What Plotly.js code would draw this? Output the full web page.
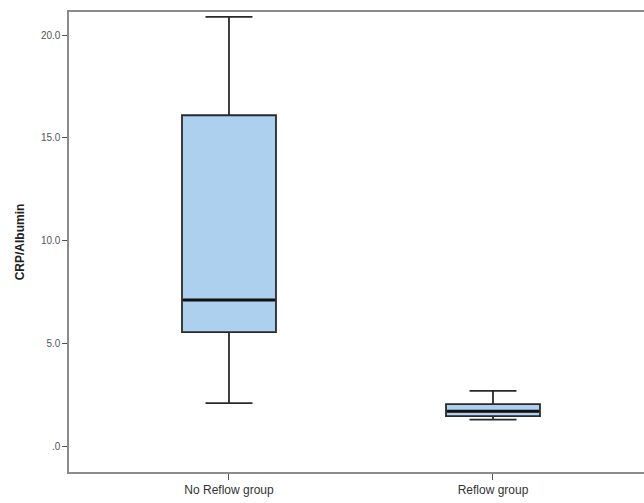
<!DOCTYPE html>
<html>
<head>
<meta charset="utf-8">
<script src="https://cdn.plot.ly/plotly-3.0.1.min.js"></script>
<style>html,body{margin:0;padding:0;background:#fff;}#chart{width:644px;height:503px;}</style>
</head>
<body>
<div id="chart"></div>
<script>
var categories = ["No Reflow group", "Reflow group"];
var lowerWhisker = [2.10, 1.30];
var q1 = [5.55, 1.47];
var median = [7.12, 1.70];
var q3 = [16.10, 2.05];
var upperWhisker = [20.88, 2.70];
var yTickVals = [0, 5, 10, 15, 20];
var yTickText = [".0", "5.0", "10.0", "15.0", "20.0"];

var boxWidth = 0.356;
var positions = categories.map(function (c, i) { return i; });

var boxTrace = {
  type: "box",
  x: positions,
  q1: q1,
  median: median,
  q3: q3,
  lowerfence: lowerWhisker,
  upperfence: upperWhisker,
  width: boxWidth,
  whiskerwidth: 0.5,
  fillcolor: "rgb(172,208,238)",
  line: {color: "#2a2a2a", width: 1.8},
  boxpoints: false,
  hoverinfo: "none",
  showlegend: false
};

// thicker median line, as in the SPSS original
var mx = [], my = [];
positions.forEach(function (p, i) {
  mx.push(p - boxWidth / 2 + 0.004, p + boxWidth / 2 - 0.004, null);
  my.push(median[i], median[i], null);
});
var medianTrace = {
  type: "scatter",
  mode: "lines",
  x: mx,
  y: my,
  line: {color: "#111", width: 3},
  hoverinfo: "none",
  showlegend: false
};

var layout = {
  width: 644,
  height: 503,
  margin: {l: 69, r: 0, t: 12, b: 31},
  paper_bgcolor: "#ffffff",
  plot_bgcolor: "#ffffff",
  font: {family: "Liberation Sans, Arial, sans-serif", color: "#333"},
  showlegend: false,
  xaxis: {
    range: [-0.606, 1.572],
    tickvals: positions,
    ticktext: categories,
    showline: true,
    linecolor: "#8c8c8c",
    linewidth: 1.6,
    mirror: true,
    ticks: "outside",
    ticklen: 6,
    tickcolor: "#555",
    tickwidth: 1,
    showgrid: false,
    zeroline: false,
    tickfont: {size: 12, color: "#333"}
  },
  yaxis: {
    range: [-1.25, 21.12],
    tickvals: yTickVals,
    ticktext: yTickText,
    showline: true,
    linecolor: "#8c8c8c",
    linewidth: 1.6,
    ticks: "outside",
    ticklen: 5,
    tickcolor: "#555",
    tickwidth: 1,
    showgrid: false,
    zeroline: false,
    tickfont: {size: 10, color: "#555"},
    title: {text: "<b>CRP/Albumin</b>", font: {size: 12, color: "#222"}, standoff: 14}
  }
};

Plotly.newPlot("chart", [boxTrace, medianTrace], layout, {displayModeBar: false, staticPlot: true});
</script>
</body>
</html>
